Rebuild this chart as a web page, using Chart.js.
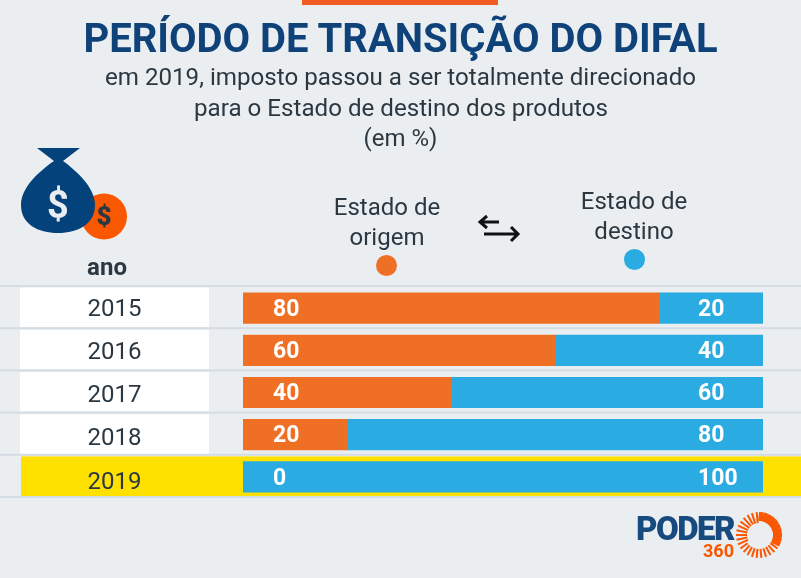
<!DOCTYPE html>
<html lang="pt-BR">
<head>
<meta charset="utf-8">
<title>Período de transição do DIFAL</title>
<script src="https://cdn.jsdelivr.net/npm/chart.js@4"></script>
<style>
  html, body { margin: 0; padding: 0; background: #eaeef1; }
  body { position: relative; width: 801px; height: 578px; overflow: hidden; font-family: Roboto, sans-serif; color: #2b3842; }
  #chart { position: absolute; left: 0; top: 0; }
  .txt { position: absolute; white-space: nowrap; transform: translate(-50%, -50%); line-height: 1; }
  .dot { position: absolute; width: 21px; height: 21px; border-radius: 50%; }
  svg { position: absolute; overflow: visible; }
</style>
</head>
<body>
<canvas id="chart" width="801" height="578"></canvas>

<div style="position:absolute;left:302px;top:0;width:196px;height:5px;background:#f15a22"></div>
<div class="txt" style="left:400.5px;top:39px;font-size:40px;font-weight:700;color:#0f4279">PERÍODO DE TRANSIÇÃO DO DIFAL</div>
<div class="txt" style="left:400.5px;top:77px;font-size:24.15px">em 2019, imposto passou a ser totalmente direcionado</div>
<div class="txt" style="left:401px;top:108px;font-size:24.15px">para o Estado de destino dos produtos</div>
<div class="txt" style="left:400.5px;top:138px;font-size:24px">(em %)</div>

<div class="txt" style="left:107px;top:267px;font-size:24px;font-weight:700">ano</div>
<div class="txt" style="left:387px;top:207px;font-size:24px">Estado de</div>
<div class="txt" style="left:387px;top:237px;font-size:24px">origem</div>
<div class="dot" style="left:376px;top:255px;background:#ef6f25"></div>
<div class="txt" style="left:634px;top:201px;font-size:24px">Estado de</div>
<div class="txt" style="left:634px;top:231px;font-size:24px">destino</div>
<div class="dot" style="left:624px;top:249px;background:#2aace2"></div>

<!-- arrows -->
<svg style="left:0;top:0" width="801" height="578" fill="none" stroke="#111" stroke-width="3">
  <path d="M499 222H480M487 216l-7 6 7 6"/>
  <path d="M484 234H518M511 227l7 7-7 7"/>
</svg>

<!-- money bag -->
<svg style="left:0;top:0" width="801" height="578">
  <circle cx="104" cy="216.5" r="23" fill="#f95700"/>
  <path fill="#04427b" d="M37 148H80L63 161C78 172 95 188 95 205C95 224 78 233 58 233C38 233 21 224 21 205C21 188 38 172 54 161Z"/>
  <text x="58" y="218" font-size="38" font-weight="700" fill="#e9edf1" text-anchor="middle">$</text>
  <text x="104" y="225" font-size="26" font-weight="900" fill="#2b3842" text-anchor="middle">$</text>
</svg>

<!-- logo -->
<div class="txt" style="left:685px;top:528px;font-size:33px;font-weight:900;color:#174a7f;letter-spacing:-1.5px">PODER</div>
<div class="txt" style="left:718.5px;top:551px;font-size:18px;font-weight:700;color:#f95700">360</div>
<svg id="sun" style="left:0;top:0" width="801" height="578" stroke="#f95700" fill="none"></svg>

<script>
// values (%)
const years = ["2015", "2016", "2017", "2018", "2019"];
const origem = [80, 60, 40, 20, 0];
const destino = [20, 40, 60, 80, 100];

const ORANGE = "#ef6f25";
const BLUE = "#2aace2";
const YELLOW = "#ffe100";
const WHITE = "#ffffff";
const LINE = "#d4dde3";
const TEXT = "#2b3842";

// logo rays: solid on the upper right, separate rays on the rest
const sun = document.getElementById("sun");
for (let a = 0; a < 360; a += 12) {
  const r = (a * Math.PI) / 180;
  const solid = a >= 276 || a <= 24;
  const inner = a > 150 && a < 276 ? 12 : 14;
  const ray = document.createElementNS("http://www.w3.org/2000/svg", "line");
  ray.setAttribute("x1", 759 + inner * Math.cos(r));
  ray.setAttribute("y1", 535 + inner * Math.sin(r));
  ray.setAttribute("x2", 759 + 23 * Math.cos(r));
  ray.setAttribute("y2", 535 + 23 * Math.sin(r));
  ray.setAttribute("stroke-width", solid ? 4.6 : 2);
  sun.appendChild(ray);
}

// row backgrounds, separators and year labels behind the bars
const rowBands = {
  id: "rowBands",
  beforeDatasetsDraw(chart) {
    const { ctx, scales: { y }, width } = chart;
    const band = y.height / years.length;
    ctx.save();
    y.ticks.forEach((tick, i) => {
      const center = y.getPixelForTick(i);
      const top = center - band / 2;
      if (i === years.length - 1) {
        ctx.fillStyle = YELLOW;
        ctx.fillRect(21, top + 0.6, width - 21, band - 2.6);
      } else {
        ctx.fillStyle = WHITE;
        ctx.fillRect(20, top + 0.6, 189, band - 2.6);
      }
      ctx.fillStyle = LINE;
      ctx.fillRect(0, top - 2, width, 2);

      // the years drift about 1px lower per row in the original
      ctx.fillStyle = TEXT;
      ctx.font = "24px Roboto";
      ctx.textAlign = "center";
      ctx.textBaseline = "middle";
      ctx.fillText(tick.label, 114.5, center + 2 + i * 0.9);
    });
    ctx.fillStyle = LINE;
    ctx.fillRect(0, y.bottom - 2, width, 2);
    ctx.restore();
  },
};

// white numbers inside the bars, left aligned in both columns
const barLabels = {
  id: "barLabels",
  afterDatasetsDraw(chart) {
    const { ctx } = chart;
    ctx.save();
    ctx.font = "700 23px Roboto";
    ctx.fillStyle = WHITE;
    ctx.textBaseline = "middle";
    ctx.textAlign = "left";
    chart.getDatasetMeta(0).data.forEach((bar, i) => {
      ctx.fillText(origem[i], bar.base + 30, bar.y + 2);
    });
    chart.getDatasetMeta(1).data.forEach((bar, i) => {
      ctx.fillText(destino[i], bar.x - 65, bar.y + 2);
    });
    ctx.restore();
  },
};

new Chart(document.getElementById("chart"), {
  type: "bar",
  data: {
    labels: years,
    datasets: [
      { label: "Estado de origem", data: origem, backgroundColor: ORANGE, barThickness: 30.5 },
      { label: "Estado de destino", data: destino, backgroundColor: BLUE, barThickness: 30.5 },
    ],
  },
  options: {
    indexAxis: "y",
    responsive: false,
    animation: false,
    layout: { padding: { left: 0, right: 38, top: 287, bottom: 80 } },
    plugins: { legend: { display: false }, tooltip: { enabled: false } },
    scales: {
      x: { stacked: true, min: 0, max: 100, display: false },
      y: {
        stacked: true,
        afterFit: (scale) => { scale.width = 243; },
        border: { display: false },
        grid: { display: false, drawTicks: false },
        ticks: { display: false },
      },
    },
  },
  plugins: [rowBands, barLabels],
});
</script>
</body>
</html>
